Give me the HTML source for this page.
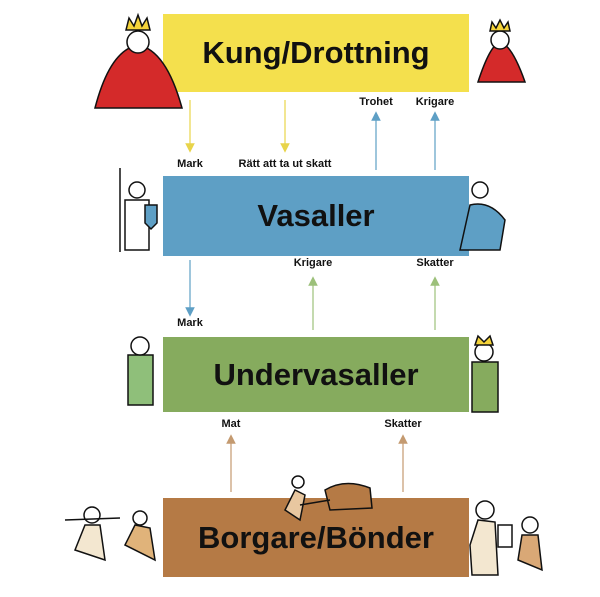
<!DOCTYPE html>
<html><head><meta charset="utf-8"><style>
body{margin:0;width:600px;height:597px;background:#fff;position:relative;overflow:hidden;font-family:"Liberation Sans",sans-serif}
.box{position:absolute;left:163px;width:306px;display:flex;align-items:center;justify-content:center;font-weight:bold;font-size:31px;color:#111}
.l{position:absolute;font-size:11px;font-weight:bold;color:#111;transform:translateX(-50%);white-space:nowrap}
svg{position:absolute;left:0;top:0}
</style></head><body>
<div class="box" style="top:14px;height:78px;background:#f4e04d">Kung/Drottning</div>
<div class="box" style="top:176px;height:80px;background:#5e9fc5">Vasaller</div>
<div class="box" style="top:337px;height:75px;background:#86ab5e">Undervasaller</div>
<div class="box" style="top:498px;height:79px;background:#b57a45">Borgare/Bönder</div>
<svg width="600" height="597">
<defs>
<marker id="y" markerWidth="8" markerHeight="8" refX="4" refY="4" orient="auto"><path d="M0,0L8,4L0,8z" fill="#e8d44a"/></marker>
<marker id="b" markerWidth="8" markerHeight="8" refX="4" refY="4" orient="auto"><path d="M0,0L8,4L0,8z" fill="#5e9fc5"/></marker>
<marker id="g" markerWidth="8" markerHeight="8" refX="4" refY="4" orient="auto"><path d="M0,0L8,4L0,8z" fill="#9cc07a"/></marker>
<marker id="r" markerWidth="8" markerHeight="8" refX="4" refY="4" orient="auto"><path d="M0,0L8,4L0,8z" fill="#c49a70"/></marker>
</defs>
<g stroke-width="1.2">
<line x1="190" y1="100" x2="190" y2="148" stroke="#e8d44a" marker-end="url(#y)"/>
<line x1="285" y1="100" x2="285" y2="148" stroke="#e8d44a" marker-end="url(#y)"/>
<line x1="376" y1="170" x2="376" y2="116" stroke="#5e9fc5" marker-end="url(#b)"/>
<line x1="435" y1="170" x2="435" y2="116" stroke="#5e9fc5" marker-end="url(#b)"/>
<line x1="190" y1="260" x2="190" y2="312" stroke="#5e9fc5" marker-end="url(#b)"/>
<line x1="313" y1="330" x2="313" y2="281" stroke="#9cc07a" marker-end="url(#g)"/>
<line x1="435" y1="330" x2="435" y2="281" stroke="#9cc07a" marker-end="url(#g)"/>
<line x1="231" y1="492" x2="231" y2="439" stroke="#c49a70" marker-end="url(#r)"/>
<line x1="403" y1="492" x2="403" y2="439" stroke="#c49a70" marker-end="url(#r)"/>
</g>
<!-- figures -->
<g stroke="#111" stroke-width="1.5">
<path d="M95,108 Q110,50 138,45 Q166,50 182,108 Z" fill="#d42a2a"/>
<circle cx="138" cy="42" r="11" fill="#fff"/><path d="M126,30 L129,18 L134,26 L138,15 L142,26 L147,18 L150,30Z" fill="#f4d33a"/>
<path d="M478,82 Q490,45 500,42 Q512,45 525,82 Z" fill="#d42a2a"/>
<circle cx="500" cy="40" r="9" fill="#fff"/><path d="M490,31 L492,22 L496,28 L500,20 L504,28 L508,22 L510,31Z" fill="#f4d33a"/>
<rect x="125" y="200" width="24" height="50" fill="#fff"/><circle cx="137" cy="190" r="8" fill="#fff"/><path d="M145,205 h12 v18 l-6,6 l-6,-6z" fill="#5e9fc5"/><line x1="120" y1="168" x2="120" y2="252"/>
<path d="M460,250 L470,205 Q490,200 505,220 L500,250 Z" fill="#5e9fc5"/><circle cx="480" cy="190" r="8" fill="#fff"/>
<rect x="128" y="355" width="25" height="50" fill="#8fbf7a"/><circle cx="140" cy="346" r="9" fill="#fff"/>
<rect x="472" y="362" width="26" height="50" fill="#86ab5e"/><circle cx="484" cy="352" r="9" fill="#fff"/><path d="M475,345 L478,336 L484,342 L490,336 L493,345Z" fill="#f4d33a"/>
<path d="M285,510 L295,490 L305,495 L300,520Z" fill="#e8c7a0"/><circle cx="298" cy="482" r="6" fill="#fff"/>
<path d="M325,490 Q345,478 370,488 L372,508 L330,510Z" fill="#b57a45"/><line x1="300" y1="505" x2="330" y2="500"/>
<path d="M75,550 L85,525 L100,525 L105,560 Z" fill="#f3e7d0"/><circle cx="92" cy="515" r="8" fill="#fff"/><line x1="65" y1="520" x2="120" y2="518"/>
<path d="M125,545 L135,525 L150,528 L155,560Z" fill="#e0b37a"/><circle cx="140" cy="518" r="7" fill="#fff"/>
<path d="M470,545 L478,520 L495,522 L498,575 L472,575Z" fill="#f3e7d0"/><circle cx="485" cy="510" r="9" fill="#fff"/><rect x="498" y="525" width="14" height="22" fill="#fff"/>
<path d="M518,560 L522,535 L538,535 L542,570Z" fill="#d9a876"/><circle cx="530" cy="525" r="8" fill="#fff"/>
</g>
</svg>
<div class="l" style="left:190px;top:158px">Mark</div>
<div class="l" style="left:285px;top:158px">Rätt att ta ut skatt</div>
<div class="l" style="left:376px;top:96px">Trohet</div>
<div class="l" style="left:435px;top:96px">Krigare</div>
<div class="l" style="left:190px;top:317px">Mark</div>
<div class="l" style="left:313px;top:257px">Krigare</div>
<div class="l" style="left:435px;top:257px">Skatter</div>
<div class="l" style="left:231px;top:418px">Mat</div>
<div class="l" style="left:403px;top:418px">Skatter</div>
</body></html>
